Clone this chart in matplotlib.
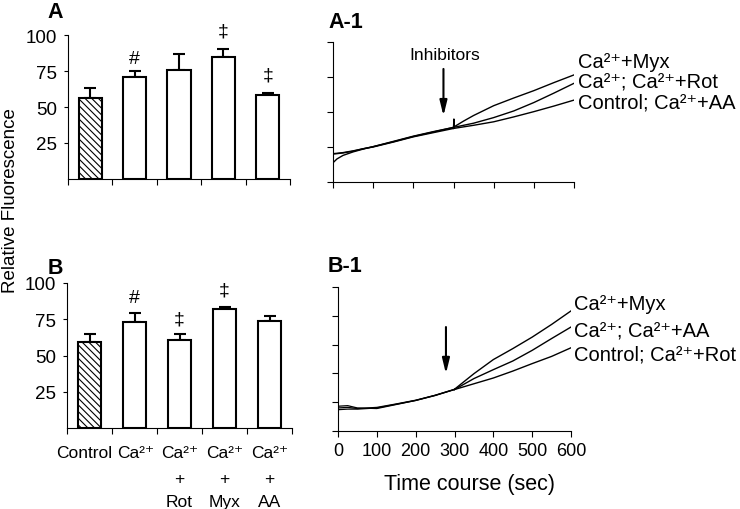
import numpy as np
import matplotlib.pyplot as plt
from matplotlib.transforms import blended_transform_factory, offset_copy

plt.rcParams['font.family'] = ['Liberation Sans', 'DejaVu Sans']
plt.rcParams['hatch.linewidth'] = 0.8

CA = 'Ca\u00b2\u207a'

# bar panels
groups = ['Control', CA, CA, CA, CA]
groups_mid = ['', '', '+', '+', '+']
groups_low = ['', '', 'Rot', 'Myx', 'AA']

a_mean = [56, 71, 76, 85, 58]
a_err = [7, 4, 11, 5, 2]
a_marks = ['', '#', '', '\u2021', '\u2021']
a_mark_y = [0, 84, 0, 103, 72]

b_mean = [59, 73, 61, 82, 73.5]
b_err = [6, 6, 3.5, 1.2, 3.5]
b_marks = ['', '#', '\u2021', '\u2021', '']
b_mark_y = [0, 90, 75, 95, 0]

# time course panels
a1_t_pre = [0, 10, 25, 50, 75, 100, 150, 200, 250, 300]
a1_myx_pre = [0.55, 0.66, 0.76, 0.86, 0.94, 1.01, 1.16, 1.31, 1.44, 1.56]
a1_ca_pre = [0.81, 0.82, 0.84, 0.89, 0.95, 1.01, 1.15, 1.30, 1.43, 1.56]
a1_ctl_pre = [0.80, 0.81, 0.83, 0.88, 0.95, 1.00, 1.14, 1.29, 1.41, 1.53]
a1_t_post = [300, 301, 302, 325, 350, 400, 450, 500, 550, 600]
a1_myx_post = [1.56, 1.80, 1.58, 1.74, 1.90, 2.18, 2.40, 2.61, 2.84, 3.06]
a1_t = [300, 350, 400, 450, 500, 550, 600]
a1_ca = [1.56, 1.68, 1.84, 2.03, 2.27, 2.54, 2.82]
a1_ctl = [1.53, 1.62, 1.72, 1.86, 2.01, 2.17, 2.34]

b1_t_pre = [0, 25, 50, 100, 150, 200, 250, 300]
b1_c1_pre = [0.86, 0.88, 0.80, 0.78, 0.92, 1.06, 1.24, 1.45]
b1_c2_pre = [0.74, 0.76, 0.76, 0.80, 0.93, 1.06, 1.23, 1.44]
b1_c3_pre = [0.80, 0.82, 0.78, 0.82, 0.94, 1.07, 1.24, 1.44]
b1_t = [300, 350, 400, 450, 500, 550, 600]
b1_myx = [1.45, 1.99, 2.48, 2.86, 3.26, 3.70, 4.17]
b1_ca = [1.44, 1.82, 2.13, 2.43, 2.80, 3.21, 3.61]
b1_ctl = [1.44, 1.64, 1.84, 2.08, 2.34, 2.59, 2.89]

a1_labels = [CA + '+Myx', CA + '; ' + CA + '+Rot', 'Control; ' + CA + '+AA']
b1_labels = [CA + '+Myx', CA + '; ' + CA + '+AA', 'Control; ' + CA + '+Rot']

W, H = 740, 510
fig = plt.figure(figsize=(W / 100, H / 100), dpi=100)


def box(x0, y0, x1, y1):
    # pixel box -> figure fraction
    return [x0 / W, 1 - y1 / H, (x1 - x0) / W, (y1 - y0) / H]


def ftext(x, y, s, **kw):
    fig.text(x / W, 1 - y / H, s, **kw)


def bar_panel(ax, mean, err, marks, mark_y):
    x = np.arange(len(mean))
    hatches = ['\\' * 5] + [None] * (len(mean) - 1)
    for i in range(len(mean)):
        ax.bar(x[i], mean[i], width=0.52, color='white', edgecolor='black',
               linewidth=1.5, hatch=hatches[i], zorder=2)
    ax.errorbar(x, mean, yerr=[np.zeros(len(err)), err], fmt='none',
                ecolor='black', elinewidth=1.5, capsize=4, capthick=1.5, zorder=1)
    for i in range(len(marks)):
        if marks[i]:
            ax.text(x[i], mark_y[i], marks[i], ha='center', va='center', fontsize=14)
    ax.set_xlim(-0.5, len(mean) - 0.5)
    ax.set_ylim(0, 100)
    ax.set_xticks(np.arange(len(mean) + 1) - 0.5)
    ax.set_xticklabels([])
    ax.set_yticks([25, 50, 75, 100])
    ax.tick_params(axis='y', labelsize=13.5, length=3, width=0.8, pad=5)
    ax.tick_params(axis='x', length=4, width=0.8)
    for s in ['top', 'right']:
        ax.spines[s].set_visible(False)
    for s in ['left', 'bottom']:
        ax.spines[s].set_linewidth(0.8)


def trace_panel(ax, ymax):
    ax.set_xlim(0, 600)
    ax.set_ylim(0, ymax)
    ax.set_xticks(np.arange(0, 601, 100))
    ax.set_yticks(np.arange(0, ymax + 1))
    ax.set_yticklabels([])
    ax.tick_params(length=4, width=0.8)
    for s in ['top', 'right']:
        ax.spines[s].set_visible(False)
    for s in ['left', 'bottom']:
        ax.spines[s].set_linewidth(0.8)


axA = fig.add_axes(box(68, 36, 290, 180))
bar_panel(axA, a_mean, a_err, a_marks, a_mark_y)

axB = fig.add_axes(box(67, 284, 292, 429))
bar_panel(axB, b_mean, b_err, b_marks, b_mark_y)
tr = blended_transform_factory(axB.transData, axB.transAxes)
label_dx = [-5, 1, 0, 0, 0]
for i in range(len(groups)):
    t = offset_copy(tr, fig=fig, x=label_dx[i], units='dots')
    axB.text(i, -0.166, groups[i], transform=t, ha='center', va='center', fontsize=12.5)
    axB.text(i, -0.35, groups_mid[i], transform=t, ha='center', va='center', fontsize=12.5)
    axB.text(i, -0.505, groups_low[i], transform=t, ha='center', va='center', fontsize=12.5)

lw = 1.0
axA1 = fig.add_axes(box(333, 43, 574, 183))
trace_panel(axA1, 4)
axA1.set_xticklabels([])
axA1.plot(a1_t_pre, a1_myx_pre, color='black', lw=lw)
axA1.plot(a1_t_pre, a1_ca_pre, color='black', lw=lw)
axA1.plot(a1_t_pre, a1_ctl_pre, color='black', lw=lw)
axA1.plot(a1_t_post, a1_myx_post, color='black', lw=lw)
axA1.plot(a1_t, a1_ca, color='black', lw=lw)
axA1.plot(a1_t, a1_ctl, color='black', lw=lw)
axA1.annotate('', xy=(275, 1.89), xytext=(275, 3.23),
              arrowprops=dict(arrowstyle='-|>,head_length=0.9,head_width=0.22',
                              color='black', lw=1.5, shrinkA=0, shrinkB=0),
              annotation_clip=False)
axA1.text(279, 3.64, 'Inhibitors', ha='center', va='center', fontsize=12.5)

axB1 = fig.add_axes(box(338, 288, 571, 432))
trace_panel(axB1, 5)
axB1.tick_params(axis='x', labelsize=13, pad=4)
axB1.plot(b1_t_pre, b1_c1_pre, color='black', lw=0.9)
axB1.plot(b1_t_pre, b1_c2_pre, color='black', lw=0.9)
axB1.plot(b1_t_pre, b1_c3_pre, color='black', lw=0.9)
axB1.plot(b1_t, b1_myx, color='black', lw=lw)
axB1.plot(b1_t, b1_ca, color='black', lw=lw)
axB1.plot(b1_t, b1_ctl, color='black', lw=lw)
axB1.annotate('', xy=(278, 1.99), xytext=(278, 3.61),
              arrowprops=dict(arrowstyle='-|>,head_length=0.9,head_width=0.22',
                              color='black', lw=1.5, shrinkA=0, shrinkB=0),
              annotation_clip=False)

for lab, y in zip(a1_labels, [62, 83, 103]):
    ftext(578, y, lab, ha='left', va='center', fontsize=14.5)
for lab, y in zip(b1_labels, [305, 332, 355]):
    ftext(574, y, lab, ha='left', va='center', fontsize=14.5)

ftext(55, 12, 'A', ha='center', va='center', fontsize=15.5, fontweight='bold')
ftext(55, 268, 'B', ha='center', va='center', fontsize=15.5, fontweight='bold')
ftext(328, 22, 'A-1', ha='left', va='center', fontsize=15.5, fontweight='bold')
ftext(328, 266, 'B-1', ha='left', va='center', fontsize=15.5, fontweight='bold')
ftext(11, 201, 'Relative Fluorescence', ha='center', va='center',
      rotation=90, fontsize=13.5)
ftext(469, 485, 'Time course (sec)', ha='center', va='center', fontsize=15.5)

fig.savefig('out.png', dpi=100)
